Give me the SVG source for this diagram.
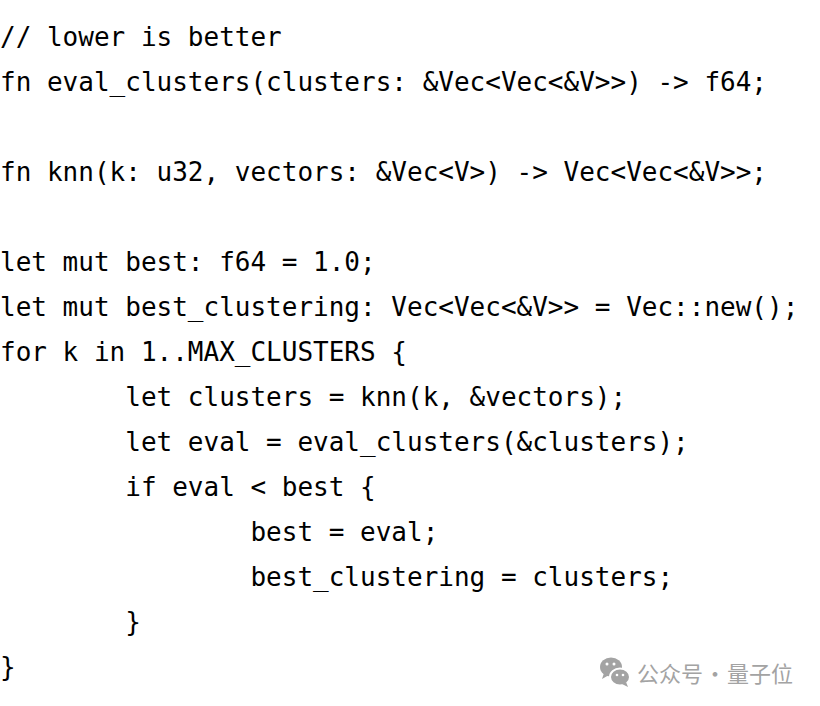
<svg xmlns="http://www.w3.org/2000/svg" width="820" height="706" viewBox="0 0 820 706">
<style>
.code{font-family:"DejaVu Sans Mono","Liberation Mono",monospace;font-size:26px;fill:#000;white-space:pre}
.wm{font-family:"Noto Sans CJK SC","Noto Sans",sans-serif;font-size:22px;fill:#a3a3a3}
</style>
<rect width="820" height="706" fill="#fff"/>
<g id="code" xml:space="preserve">
<text class="code" x="0" y="46">// lower is better</text>
<text class="code" x="0" y="91">fn eval_clusters(clusters: &amp;Vec&lt;Vec&lt;&amp;V&gt;&gt;) -&gt; f64;</text>
<text class="code" x="0" y="181">fn knn(k: u32, vectors: &amp;Vec&lt;V&gt;) -&gt; Vec&lt;Vec&lt;&amp;V&gt;&gt;;</text>
<text class="code" x="0" y="271">let mut best: f64 = 1.0;</text>
<text class="code" x="0" y="316">let mut best_clustering: Vec&lt;Vec&lt;&amp;V&gt;&gt; = Vec::new();</text>
<text class="code" x="0" y="361">for k in 1..MAX_CLUSTERS {</text>
<text class="code" x="0" y="406">        let clusters = knn(k, &amp;vectors);</text>
<text class="code" x="0" y="451">        let eval = eval_clusters(&amp;clusters);</text>
<text class="code" x="0" y="496">        if eval &lt; best {</text>
<text class="code" x="0" y="541">                best = eval;</text>
<text class="code" x="0" y="586">                best_clustering = clusters;</text>
<text class="code" x="0" y="631">        }</text>
<text class="code" x="0" y="676">}</text>
</g>
<g id="watermark">
<ellipse cx="611" cy="667" rx="11" ry="9.5" fill="#a3a3a3"/>
<path d="M604 673 L602 679 L609 675 Z" fill="#a3a3a3"/>
<ellipse cx="620" cy="677" rx="10" ry="8.5" fill="#a3a3a3" stroke="#fff" stroke-width="2"/>
<path d="M626 682 L628 687 L622 684 Z" fill="#a3a3a3"/>
<circle cx="607" cy="664" r="1.5" fill="#fff"/>
<circle cx="614" cy="664" r="1.5" fill="#fff"/>
<circle cx="617" cy="675" r="1.3" fill="#fff"/>
<circle cx="623" cy="675" r="1.3" fill="#fff"/>
<text class="wm" x="637" y="682">公众号</text>
<text class="wm" x="715" y="682" text-anchor="middle">·</text>
<text class="wm" x="727" y="682">量子位</text>
</g>
</svg>
